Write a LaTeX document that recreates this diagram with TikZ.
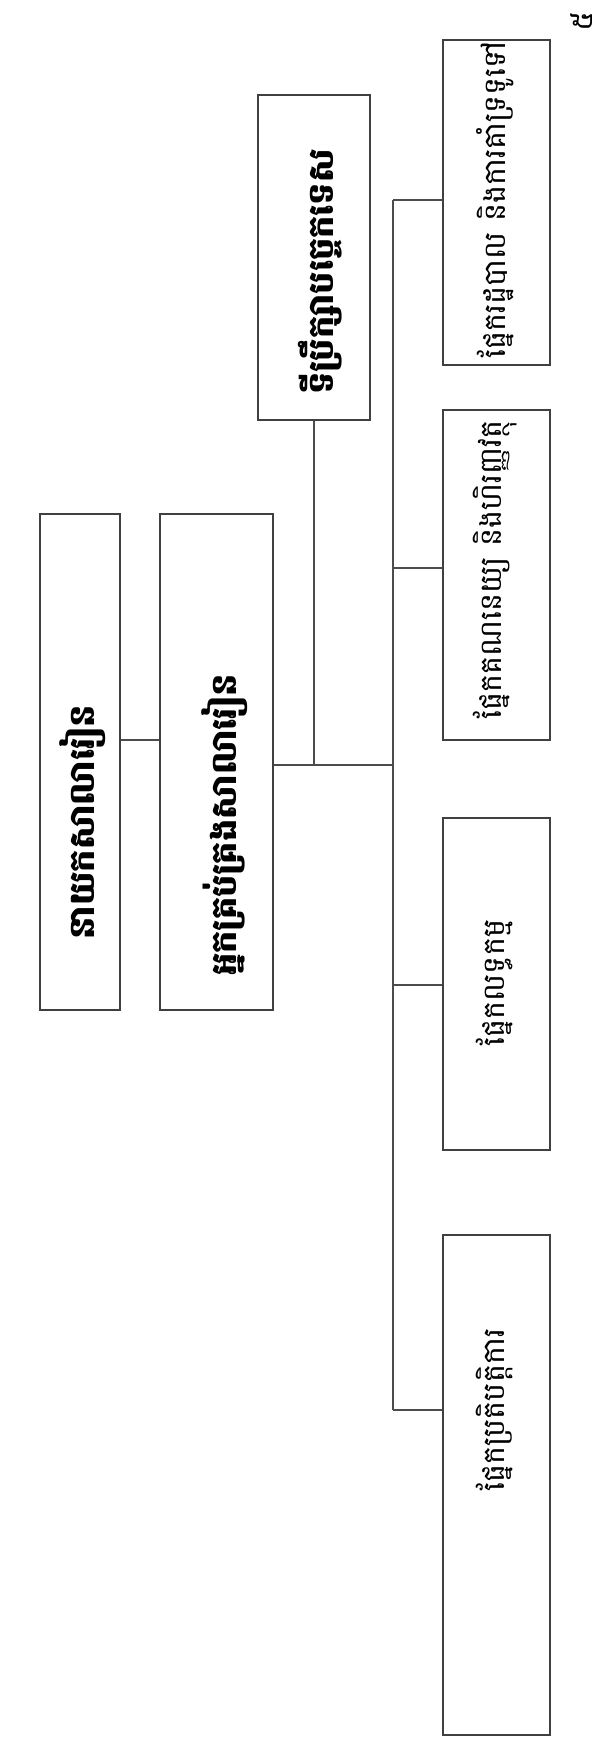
\documentclass[tikz,border=0pt]{standalone}
\usepackage{fontspec}
\usepackage{tikz}
\newfontfamily\kh[Script=Khmer]{Battambang}
\usetikzlibrary{positioning}

\tikzset{
  box/.style={draw=black!75, line width=0.6pt, rectangle, inner sep=0pt},
  wire/.style={draw=black!70, line width=0.6pt},
  headtxt/.style={rotate=90, font=\kh\bfseries\fontsize{10}{12}\selectfont},
  parttxt/.style={rotate=90, font=\kh\fontsize{8.6}{10}\selectfont}
}

\begin{document}
\begin{tikzpicture}[x=0.01cm, y=-0.01cm]
        \useasboundingbox (0,0) rectangle (613,1738);

            % top of the chart
            \node[box, minimum width=0.8cm, minimum height=4.95cm] (dir) at (80,762) {};
            \node[box, minimum width=1.13cm, minimum height=4.95cm] (mgr) at (216.5,762) {};
            \node[box, minimum width=1.12cm, minimum height=3.25cm] (adv) at (314,257.5) {};

            \node[headtxt] (tdir) at (83,822) {នាយកសាលារៀន};
            \node[headtxt] (tmgr) at (225,825) {អ្នកគ្រប់គ្រងសាលារៀន};
            \node[headtxt] (tadv) at (320,272) {ទីប្រឹក្សាបច្ចេកទេស};

            % the four parts
            \node[box, minimum width=1.07cm, minimum height=3.25cm] (pA) at (496.5,202.5) {};
            \node[box, minimum width=1.07cm, minimum height=3.30cm] (pB) at (496.5,575) {};
            \node[box, minimum width=1.07cm, minimum height=3.32cm] (pC) at (496.5,984) {};
            \node[box, minimum width=1.07cm, minimum height=5.00cm] (pD) at (496.5,1485) {};

            \node[parttxt] (tA) at (495,200) {ផ្នែករដ្ឋបាល និងការគាំទ្រទូទៅ};
            \node[parttxt] (tB) at (495,570) {ផ្នែកគណនេយ្យ និងហិរញ្ញវត្ថុ};
            \node[parttxt] (tC) at (495,983) {ផ្នែកលទ្ធកម្ម};
            \node[parttxt] (tD) at (495,1410) {ផ្នែកប្រតិបត្តិការ};

            \node[parttxt] (pg) at (582,22) {៥};

            % links
            \coordinate (j1) at (140,740);
            \draw[wire] (j1 -| dir.east) -- (j1 -| mgr.west);

            \coordinate (hub) at (393,765);
            \draw[wire] (mgr.east |- hub) -- (hub);
            \draw[wire] (adv.south) -- (adv.south |- hub);

            \coordinate (bA) at (393,200);
            \coordinate (bB) at (393,568);
            \coordinate (bC) at (393,985);
            \coordinate (bD) at (393,1410);
            \draw[wire] (bA) -- (bD);

            \foreach \n in {A,B,C,D}{
              \draw[wire] (b\n) -- (b\n -| p\n.west);
            }
\end{tikzpicture}
\end{document}
